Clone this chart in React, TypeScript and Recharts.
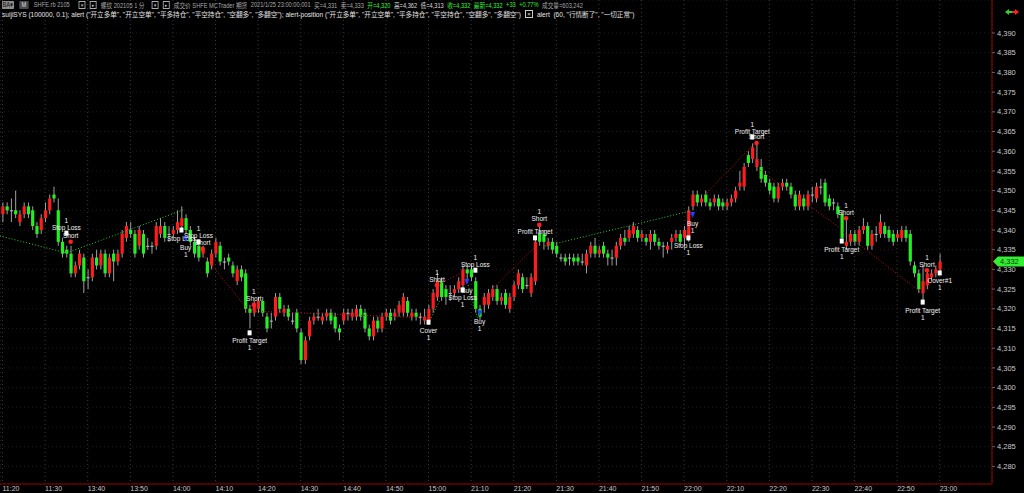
import React from "react";
import { ComposedChart, Bar, Scatter, XAxis, YAxis, CartesianGrid, ReferenceLine } from "recharts";

// 1-minute bars, SHFE rb2105: 11:20-11:30, 13:31-15:00, 21:01-23:00
const opens = [
  4344, 4346, 4345, 4345, 4342, 4344, 4346, 4345, 4341, 4340, 4343, 4345, 4349, 4345, 4337, 4335, 4334, 4329, 4331, 4333,
  4328, 4328, 4333, 4331, 4334, 4329, 4334, 4332, 4334, 4338, 4340, 4339, 4336, 4339, 4336, 4336, 4336, 4339, 4341, 4339,
  4339, 4340, 4341, 4343, 4340, 4337, 4336, 4334, 4332, 4331, 4334, 4336, 4332, 4333, 4331, 4327, 4330, 4329, 4320, 4319,
  4320, 4322, 4318, 4317, 4318, 4323, 4319, 4320, 4317, 4319, 4314, 4307, 4313, 4317, 4318, 4317, 4318, 4319, 4318, 4315,
  4317, 4319, 4318, 4318, 4320, 4319, 4315, 4313, 4317, 4315, 4318, 4319, 4318, 4319, 4319, 4322, 4318, 4319, 4318, 4317,
  4317, 4320, 4323, 4327, 4325, 4324, 4324, 4325, 4326, 4330, 4330, 4327, 4320, 4321, 4321, 4323, 4325, 4322, 4324, 4320,
  4323, 4326, 4328, 4326, 4324, 4327, 4339, 4339, 4336, 4337, 4336, 4333, 4333, 4333, 4333, 4333, 4332, 4331, 4334, 4336,
  4334, 4336, 4334, 4333, 4333, 4336, 4338, 4338, 4339, 4340, 4338, 4338, 4337, 4339, 4337, 4336, 4335, 4337, 4338, 4339,
  4338, 4338, 4346, 4349, 4347, 4349, 4347, 4347, 4348, 4347, 4346, 4347, 4348, 4351, 4351, 4359, 4358, 4356, 4356, 4354,
  4352, 4351, 4348, 4351, 4352, 4351, 4349, 4346, 4348, 4346, 4349, 4348, 4351, 4352, 4348, 4347, 4346, 4344, 4336, 4337,
  4339, 4337, 4340, 4341, 4336, 4339, 4339, 4341, 4340, 4339, 4338, 4338, 4340, 4339, 4331, 4329, 4324, 4326, 4328, 4329,
  4330,
];
const highs = [
  4347, 4347, 4348, 4350, 4345, 4347, 4347, 4346, 4342, 4344, 4347, 4349, 4351, 4348, 4338, 4336, 4336, 4332, 4335, 4334,
  4330, 4334, 4335, 4335, 4335, 4334, 4335, 4335, 4340, 4342, 4342, 4340, 4341, 4340, 4338, 4337, 4342, 4343, 4342, 4341,
  4341, 4345, 4346, 4344, 4341, 4338, 4337, 4336, 4333, 4335, 4338, 4337, 4333, 4334, 4332, 4331, 4331, 4330, 4321, 4322,
  4323, 4323, 4319, 4319, 4324, 4324, 4321, 4321, 4319, 4320, 4315, 4313, 4318, 4319, 4320, 4319, 4320, 4320, 4319, 4316,
  4320, 4320, 4320, 4321, 4321, 4320, 4316, 4318, 4318, 4319, 4320, 4320, 4320, 4322, 4324, 4323, 4320, 4320, 4319, 4320,
  4321, 4325, 4329, 4328, 4326, 4326, 4326, 4328, 4331, 4331, 4331, 4328, 4321, 4324, 4325, 4326, 4326, 4324, 4325, 4324,
  4327, 4330, 4329, 4328, 4329, 4338, 4341, 4340, 4338, 4338, 4337, 4334, 4334, 4334, 4334, 4334, 4334, 4335, 4337, 4338,
  4336, 4337, 4335, 4335, 4337, 4339, 4340, 4341, 4342, 4341, 4340, 4339, 4340, 4340, 4338, 4337, 4337, 4339, 4340, 4340,
  4341, 4346, 4350, 4350, 4349, 4350, 4348, 4349, 4349, 4348, 4348, 4349, 4351, 4355, 4357, 4360, 4362, 4362, 4358, 4355,
  4353, 4352, 4352, 4353, 4353, 4352, 4350, 4350, 4349, 4350, 4351, 4352, 4353, 4353, 4349, 4348, 4347, 4345, 4343, 4340,
  4340, 4341, 4343, 4342, 4340, 4341, 4344, 4342, 4341, 4340, 4340, 4341, 4341, 4340, 4332, 4330, 4331, 4330, 4330, 4331,
  4334,
];
const lows = [
  4342, 4344, 4342, 4343, 4341, 4343, 4343, 4340, 4338, 4339, 4342, 4344, 4347, 4336, 4333, 4333, 4328, 4328, 4330, 4324,
  4325, 4327, 4330, 4330, 4328, 4328, 4327, 4331, 4333, 4337, 4338, 4333, 4335, 4333, 4335, 4334, 4335, 4338, 4337, 4337,
  4338, 4339, 4340, 4339, 4336, 4333, 4332, 4333, 4328, 4330, 4333, 4331, 4330, 4331, 4328, 4326, 4327, 4319, 4315, 4318,
  4319, 4318, 4314, 4315, 4317, 4319, 4318, 4317, 4316, 4314, 4306, 4306, 4312, 4316, 4317, 4316, 4317, 4316, 4314, 4312,
  4316, 4317, 4317, 4317, 4317, 4314, 4312, 4312, 4314, 4314, 4317, 4316, 4317, 4318, 4318, 4318, 4317, 4317, 4316, 4316,
  4316, 4319, 4322, 4322, 4321, 4322, 4323, 4324, 4325, 4327, 4327, 4319, 4317, 4319, 4320, 4322, 4321, 4321, 4320, 4319,
  4322, 4325, 4324, 4325, 4323, 4326, 4336, 4335, 4335, 4334, 4333, 4332, 4331, 4331, 4331, 4331, 4331, 4329, 4333, 4333,
  4333, 4333, 4331, 4331, 4331, 4335, 4336, 4337, 4338, 4337, 4337, 4336, 4335, 4336, 4335, 4333, 4334, 4335, 4337, 4336,
  4336, 4337, 4345, 4346, 4346, 4346, 4345, 4346, 4345, 4345, 4345, 4346, 4347, 4350, 4350, 4356, 4357, 4355, 4352, 4351,
  4349, 4347, 4347, 4350, 4350, 4348, 4345, 4345, 4345, 4345, 4347, 4347, 4349, 4346, 4345, 4345, 4343, 4337, 4335, 4336,
  4336, 4336, 4339, 4335, 4335, 4337, 4338, 4338, 4337, 4336, 4337, 4337, 4337, 4331, 4328, 4324, 4322, 4325, 4327, 4328,
  4329,
];
const closes = [
  4346, 4345, 4345, 4344, 4344, 4346, 4344, 4341, 4339, 4343, 4345, 4348, 4348, 4337, 4334, 4334, 4329, 4331, 4334, 4327,
  4328, 4333, 4331, 4334, 4329, 4333, 4332, 4334, 4339, 4341, 4339, 4334, 4340, 4334, 4336, 4336, 4341, 4341, 4338, 4339,
  4340, 4342, 4343, 4340, 4337, 4334, 4333, 4335, 4329, 4334, 4337, 4332, 4332, 4332, 4329, 4330, 4328, 4320, 4319, 4321,
  4322, 4319, 4315, 4317, 4323, 4320, 4320, 4318, 4317, 4315, 4307, 4312, 4317, 4318, 4318, 4318, 4319, 4317, 4315, 4314,
  4319, 4319, 4319, 4320, 4318, 4315, 4313, 4317, 4315, 4318, 4319, 4317, 4319, 4321, 4323, 4319, 4319, 4318, 4318, 4318,
  4320, 4324, 4327, 4323, 4323, 4324, 4325, 4327, 4330, 4329, 4328, 4320, 4318, 4323, 4324, 4325, 4322, 4323, 4321, 4323,
  4326, 4329, 4325, 4326, 4328, 4337, 4337, 4337, 4337, 4335, 4334, 4333, 4332, 4333, 4332, 4332, 4332, 4334, 4336, 4334,
  4335, 4334, 4333, 4333, 4336, 4338, 4337, 4340, 4341, 4338, 4339, 4337, 4339, 4337, 4336, 4336, 4336, 4338, 4339, 4337,
  4340, 4345, 4349, 4347, 4348, 4347, 4346, 4348, 4346, 4346, 4347, 4348, 4350, 4352, 4356, 4357, 4361, 4358, 4353, 4352,
  4350, 4348, 4351, 4352, 4351, 4349, 4346, 4349, 4346, 4349, 4349, 4351, 4351, 4347, 4346, 4347, 4344, 4338, 4337, 4339,
  4337, 4340, 4341, 4336, 4339, 4339, 4342, 4339, 4338, 4337, 4339, 4340, 4338, 4332, 4329, 4325, 4327, 4329, 4329, 4330,
  4332,
];

const tickIdx = [0, 10, 20, 30, 40, 50, 60, 70, 80, 90, 100, 110, 120, 130, 140, 150, 160, 170, 180, 190, 200, 210, 220];
const timeLabels = [
  "11:20", "11:30", "13:40", "13:50", "14:00", "14:10", "14:20", "14:30", "14:40", "14:50", "15:00", "21:10",
  "21:20", "21:30", "21:40", "21:50", "22:00", "22:10", "22:20", "22:30", "22:40", "22:50", "23:00",
];
const priceTicks = [
  4280, 4285, 4290, 4295, 4300, 4305, 4310, 4315, 4320, 4325, 4330, 4335,
  4340, 4345, 4350, 4355, 4360, 4365, 4370, 4375, 4380, 4385, 4390,
];
const lastPrice = 4332;

// trade path lines (bar index / price)
const tradeLines = [
  { i1: -0.59, p1: 4338.5, i2: 14.9, p2: 4334.2, c: "#2fd02f" },
  { i1: 15.1, p1: 4334.2, i2: 42.4, p2: 4345.1, c: "#2fd02f" },
  { i1: 47.1, p1: 4333.7, i2: 57.9, p2: 4319.4, c: "#d01010" },
  { i1: 58.8, p1: 4319.4, i2: 99.9, p2: 4317.7, c: "#d01010" },
  { i1: 100.6, p1: 4317.7, i2: 102.7, p2: 4322.2, c: "#2fd02f" },
  { i1: 102, p1: 4326, i2: 108.1, p2: 4329.3, c: "#d01010" },
  { i1: 109.1, p1: 4326.8, i2: 111.6, p2: 4317.2, c: "#2fd02f" },
  { i1: 114.9, p1: 4325, i2: 125, p2: 4335.7, c: "#d01010" },
  { i1: 127.3, p1: 4335.9, i2: 161.4, p2: 4344.8, c: "#2fd02f" },
  { i1: 164.9, p1: 4348.9, i2: 176.6, p2: 4362.1, c: "#d01010" },
  { i1: 177.8, p1: 4355.2, i2: 197.3, p2: 4340, c: "#d01010" },
  { i1: 197.3, p1: 4339.5, i2: 215.8, p2: 4324, c: "#d01010" },
];

// order markers with their text stacks
const orders = [
  { i: 15, p: 4339.2, kind: "exit", above: ["1", "Stop Loss"], below: [] },
  { i: 16, p: 4337.0, kind: "short", above: ["Short"], below: [] },
  { i: 42, p: 4340.0, kind: "exit", above: [], below: ["Stop Loss"] },
  { i: 43, p: 4337.7, kind: "buy", above: [], below: ["Buy", "1"] },
  { i: 46, p: 4337.0, kind: "exit", above: ["1", "Stop Loss"], below: [] },
  { i: 47, p: 4335.2, kind: "short", above: ["Short"], below: [] },
  { i: 58, p: 4313.9, kind: "exit", above: [], below: ["Profit Target", "1"] },
  { i: 59, p: 4321.0, kind: "short", above: ["1", "Short"], below: [] },
  { i: 100, p: 4316.6, kind: "exit", above: [], below: ["Cover", "1"] },
  { i: 102, p: 4326.0, kind: "short", above: ["1", "Short"], below: [] },
  { i: 111, p: 4329.8, kind: "exit", above: ["1", "Stop Loss"], below: [] },
  { i: 108, p: 4324.8, kind: "exit", above: [], below: ["Stop Loss", "1"] },
  { i: 109, p: 4326.8, kind: "buy", above: [], below: ["Buy"] },
  { i: 112, p: 4318.9, kind: "buy", above: [], below: ["Buy", "1"] },
  { i: 125, p: 4338.0, kind: "exit", above: ["Profit Target"], below: [] },
  { i: 126, p: 4341.3, kind: "short", above: ["1", "Short"], below: [] },
  { i: 161, p: 4338.0, kind: "exit", above: [], below: ["Stop Loss", "1"] },
  { i: 162, p: 4343.8, kind: "buy", above: [], below: ["Buy", "1"] },
  { i: 176, p: 4363.6, kind: "exit", above: ["1", "Profit Target"], below: [] },
  { i: 177, p: 4362.1, kind: "short", above: ["Short"], below: [] },
  { i: 197, p: 4337.2, kind: "exit", above: [], below: ["Profit Target", "1"] },
  { i: 198, p: 4343.0, kind: "short", above: ["1", "Short"], below: [] },
  { i: 216, p: 4321.7, kind: "exit", above: [], below: ["Profit Target", "1"] },
  { i: 217, p: 4329.8, kind: "short", above: ["1", "Short"], below: [] },
  { i: 220, p: 4329.1, kind: "exit", above: [], below: ["Cover#1", "1"] },
];

const data = opens.map((o, i) => ({ i, o, h: highs[i], l: lows[i], c: closes[i], range: [lows[i], highs[i]] }));

const FONT = "'Liberation Sans', Arial, 'Noto Sans CJK SC', sans-serif";

function Candle(props: any) {
  const { x, y, width, height, payload } = props;
  if (x == null || y == null) return null;
  const { o, h, l, c } = payload;
  const top = Math.min(y, y + height);
  const hh = Math.abs(height);
  const cx = x + width / 2;
  const ppu = h === l ? 0 : hh / (h - l);
  const bTop = top + (h - Math.max(o, c)) * ppu;
  const bBot = top + (h - Math.min(o, c)) * ppu;
  const color = c === o ? "#c0c0c0" : c > o ? "#ff1c1c" : "#22f022";
  return (
    <g>
      <line x1={cx} x2={cx} y1={top} y2={top + hh} stroke="#a0a0a0" strokeWidth={1} />
      <rect x={cx - 1.6} y={bTop} width={3.2} height={Math.max(1, bBot - bTop)} fill={color} />
    </g>
  );
}

function OrderMark(props: any) {
  const { cx, cy, payload } = props;
  if (cx == null || cy == null) return null;
  let mark = null;
  if (payload.kind === "exit") mark = <rect x={cx - 2} y={cy - 2.5} width={4} height={5} fill="#ffffff" />;
  else if (payload.kind === "short") mark = <circle cx={cx} cy={cy} r={2.3} fill="#ff2020" />;
  else mark = <polygon points={`${cx - 2.5},${cy - 3} ${cx + 2.5},${cy - 3} ${cx},${cy + 3}`} fill="#2040ff" />;
  return (
    <g>
      {mark}
      {payload.above.map((t: string, k: number) => (
        <text key={"a" + k} x={cx} y={cy - 6 - 7 * (payload.above.length - 1 - k)} fill="#f0f0f0" fontSize={6.5}
          fontFamily={FONT} textAnchor="middle" dominantBaseline="central">{t}</text>
      ))}
      {payload.below.map((t: string, k: number) => (
        <text key={"b" + k} x={cx} y={cy + 8 + 7 * k} fill="#f0f0f0" fontSize={6.5}
          fontFamily={FONT} textAnchor="middle" dominantBaseline="central">{t}</text>
      ))}
    </g>
  );
}

// y arrives as the axis line position because tickSize and tickMargin are 0
function TimeTick({ x, y, payload }: any) {
  const k = tickIdx.indexOf(payload.value);
  return (
    <text x={x} y={y + 6.5} fill="#c8c8c8" fontSize={7} fontFamily={FONT} textAnchor="start">
      {timeLabels[k]}
    </text>
  );
}

function PriceTag(props: any) {
  const vb = props.viewBox || {};
  const x0 = (vb.x || 0) + (vb.width || 0);
  const y0 = vb.y || 0;
  return (
    <g>
      <polygon points={`${x0 + 1},${y0} ${x0 + 6},${y0 - 5} ${x0 + 32},${y0 - 5} ${x0 + 32},${y0 + 5} ${x0 + 6},${y0 + 5}`} fill="#33ee33" />
      <text x={x0 + 8} y={y0 + 2.6} fontSize={7.5} fontFamily={FONT} fill="#0a3a0a">{lastPrice.toLocaleString("en-US")}</text>
    </g>
  );
}

const gray = "#a8a8a8";
const green = "#3af03a";

function Box({ children, bg, fg, w }: any) {
  return (
    <span style={{ display: "inline-block", background: bg, color: fg, width: w, height: 8, lineHeight: "8px", textAlign: "center", borderRadius: 1, marginRight: 6 }}>
      {children}
    </span>
  );
}

function Icon({ children }: any) {
  return (
    <span style={{ display: "inline-block", width: 6, height: 6, lineHeight: "6px", border: "1px solid #aaa", color: "#ccc", fontSize: 5, textAlign: "center", marginRight: 5 }}>
      {children}
    </span>
  );
}

function Header() {
  const row: React.CSSProperties = { position: "absolute", left: 2, whiteSpace: "nowrap", fontFamily: FONT, fontSize: 6.6, display: "flex", alignItems: "center" };
  return (
    <>
      <div style={{ ...row, top: 0, height: 9, color: gray, transform: "scaleX(0.86)", transformOrigin: "0 0" }}>
        <Box bg="#8c8c8c" fg="#111" w={14}>BA▾</Box>
        <Box bg="#4a4a4a" fg="#ddd" w={11}>M</Box>
        <span style={{ marginRight: 10 }}>SHFE.rb 2105</span>
        <Icon>▾</Icon>
        <Icon>▸</Icon>
        <span style={{ marginRight: 8 }}>螺纹 202105 1 分</span>
        <Icon>▾</Icon>
        <Icon>▸</Icon>
        <span style={{ marginRight: 4 }}>成交价 SHFE MCTrader 期货</span>
        <span style={{ marginRight: 4 }}>2021/1/25 23:00:00.001</span>
        <span style={{ marginRight: 4 }}>买=4,331</span>
        <span style={{ marginRight: 4 }}>卖=4,333</span>
        <span style={{ marginRight: 4, color: green }}>开=4,320</span>
        <span style={{ marginRight: 4, color: "#ddd" }}>高=4,362</span>
        <span style={{ marginRight: 4, color: "#ddd" }}>低=4,313</span>
        <span style={{ marginRight: 4, color: green }}>收=4,332</span>
        <span style={{ marginRight: 4, color: green }}>最新=4,332</span>
        <span style={{ marginRight: 4, color: green }}>+33</span>
        <span style={{ marginRight: 4, color: green }}>+0.77%</span>
        <span>成交量=603,242</span>
      </div>
      <div style={{ ...row, top: 9, height: 10, color: "#e6e6e6" }}>
        <span>suijiSYS (100000, 0.1); alert ("开立多单", "开立空单", "平多持仓", "平空持仓", "空翻多", "多翻空"); alert-position ("开立多单", "开立空单", "平多持仓", "平空持仓", "空翻多", "多翻空")</span>
        <span style={{ display: "inline-block", width: 6, height: 6, lineHeight: "6px", border: "1px solid #ccc", fontSize: 6, textAlign: "center", margin: "0 4px" }}>×</span>
        <span>alert&nbsp;&nbsp;(60, "行情断了", "一切正常")</span>
      </div>
      <svg style={{ position: "absolute", left: 1004, top: 7 }} width={16} height={10}>
        <polygon points="1,5 5,2 5,8" fill="#2fd02f" />
        <rect x={5} y={4} width={3} height={2} fill="#2fd02f" />
        <polygon points="15,5 11,2 11,8" fill="#ff2020" />
        <rect x={8} y={4} width={3} height={2} fill="#ff2020" />
      </svg>
    </>
  );
}

export default function App() {
  return (
    <div style={{ position: "absolute", left: 0, top: 0, width: 1024, height: 493, background: "#000", overflow: "hidden" }}>
      <ComposedChart width={1024} height={493} data={data} margin={{ top: 0, right: 0, bottom: 0, left: 0 }}>
        <CartesianGrid horizontal={false} stroke="#3a3a3a" strokeDasharray="1 3" />
        <CartesianGrid vertical={false} stroke="#1c1c1c" strokeDasharray="1 3" />
        <XAxis dataKey="i" type="number" domain={[-0.59, 232.27]} ticks={tickIdx} allowDataOverflow
          height={9} tick={<TimeTick />} tickLine={false} tickSize={0} tickMargin={0}
          axisLine={{ stroke: "#9a0000" }} interval={0} />
        <YAxis orientation="right" type="number" domain={[4275.53, 4398.38]} ticks={priceTicks} allowDataOverflow
          width={32} tickSize={3} tickMargin={2} axisLine={{ stroke: "#9a0000" }} tickLine={{ stroke: "#666" }}
          tick={{ fill: "#c8c8c8", fontSize: 7.5, fontFamily: FONT }} interval={0}
          tickFormatter={(v: number) => v.toLocaleString("en-US")} />
        <Bar dataKey="range" barSize={3} shape={<Candle />} isAnimationActive={false} />
        {tradeLines.map((t, k) => (
          <ReferenceLine key={k} segment={[{ x: t.i1, y: t.p1 }, { x: t.i2, y: t.p2 }]} stroke={t.c}
            strokeWidth={1} strokeDasharray="1 2" ifOverflow="visible" />
        ))}
        <ReferenceLine y={lastPrice} stroke="none" label={<PriceTag />} />
        <Scatter data={orders} dataKey="p" shape={<OrderMark />} isAnimationActive={false} />
      </ComposedChart>
      <Header />
    </div>
  );
}
